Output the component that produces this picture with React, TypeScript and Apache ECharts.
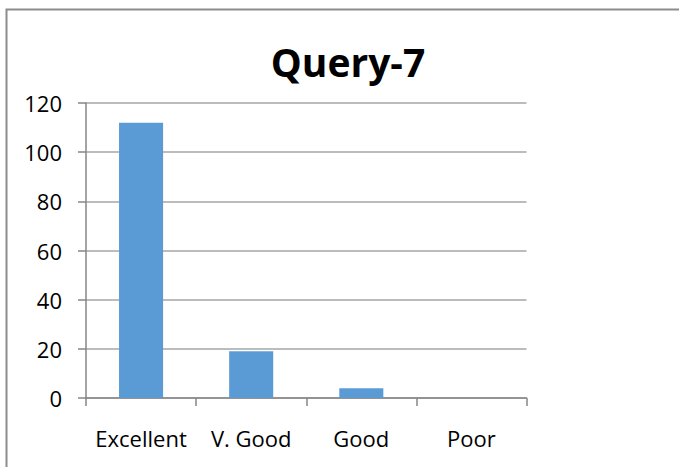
import React, { useEffect, useRef } from "react";
import * as echarts from "echarts";

const titleText = "Query-7";
const categories = ["Excellent", "V. Good", "Good", "Poor"];
const values = [112, 19, 4, 0];
const yMin = 0;
const yMax = 120;
const yInterval = 20;

export default function App() {
  const ref = useRef<HTMLDivElement>(null);
  useEffect(() => {
    document.body.style.margin = "0";
    const chart = echarts.init(ref.current!, null, { renderer: "svg" });
    const font = "'Open Sans', sans-serif";
    chart.setOption({
      animation: false,
      backgroundColor: "#ffffff",
      title: {
        text: titleText,
        left: 343,
        top: 37,
        textAlign: "center",
        textStyle: { fontFamily: font, fontWeight: "bold", fontSize: 39, color: "#000000" },
      },
      graphic: [
        {
          type: "rect",
          left: 4,
          top: 7,
          shape: { x: 0, y: 0, width: 900, height: 700 },
          style: { fill: "none", stroke: "#8c8c8c", lineWidth: 2 },
          silent: true,
          z: -1,
        },
      ],
      grid: { left: 86, right: 152.5, top: 103, bottom: 69, containLabel: false },
      xAxis: {
        type: "category",
        data: categories,
        axisLine: { show: true, lineStyle: { color: "#868686", width: 1.5 } },
        axisTick: { show: true, length: 8, alignWithLabel: false, lineStyle: { color: "#868686", width: 1.5 } },
        axisLabel: { fontFamily: font, fontSize: 22, color: "#000000", margin: 29, interval: 0 },
        splitLine: { show: false },
      },
      yAxis: {
        type: "value",
        min: yMin,
        max: yMax,
        interval: yInterval,
        axisLine: { show: true, lineStyle: { color: "#868686", width: 1.5 } },
        axisTick: { show: true, length: 8, lineStyle: { color: "#868686", width: 1.5 } },
        axisLabel: { fontFamily: font, fontSize: 22, color: "#000000", margin: 24 },
        splitLine: { show: true, lineStyle: { color: "#a6a6a6", width: 1.5 } },
      },
      series: [
        {
          type: "bar",
          data: values,
          barCategoryGap: "60%",
          itemStyle: { color: "#5b9bd5", borderWidth: 0 },
        },
      ],
    });
    return () => chart.dispose();
  }, []);
  return <div ref={ref} style={{ position: "fixed", left: 0, top: 0, width: 679, height: 467 }} />;
}
